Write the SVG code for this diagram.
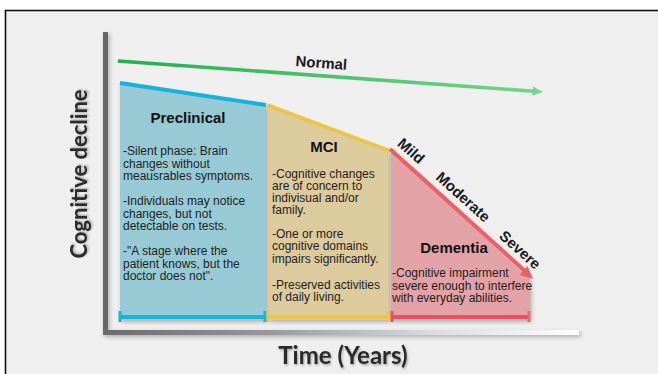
<svg xmlns="http://www.w3.org/2000/svg" width="658" height="374" viewBox="0 0 658 374">
  <defs>
    <style>
      .body { font-family: "Liberation Sans", Arial, sans-serif; font-size: 12px; fill: #1e1e1e; }
      .title { font-family: "Liberation Sans", Arial, sans-serif; font-size: 15px; font-weight: bold; fill: #111; }
      .stage { font-family: "Liberation Sans", Arial, sans-serif; font-size: 15px; font-weight: bold; fill: #1a1a1a; text-anchor: middle; }
      .axis-label { font-family: Lato, "Open Sans", sans-serif; font-weight: bold; fill: #2a2a2a; text-anchor: middle; }
      .bar { stroke-width: 4; fill: none; }
      .tick { stroke-width: 3; fill: none; }
    </style>
    <filter id="soft" x="-10%" y="-10%" width="130%" height="130%">
      <feDropShadow dx="1.5" dy="2" stdDeviation="2" flood-color="#000" flood-opacity="0.28"/>
    </filter>
    <filter id="textShadow" x="-10%" y="-20%" width="130%" height="150%">
      <feDropShadow dx="1" dy="1.5" stdDeviation="1.2" flood-color="#000" flood-opacity="0.3"/>
    </filter>
    <linearGradient id="timeAxis" x1="0" y1="0" x2="1" y2="0">
      <stop offset="0" stop-color="#6a6a6c"/>
      <stop offset="0.35" stop-color="#98989c"/>
      <stop offset="0.7" stop-color="#dcdce4"/>
      <stop offset="1" stop-color="#ffffff"/>
    </linearGradient>
    <linearGradient id="normalGrad" gradientUnits="userSpaceOnUse" x1="118" y1="61" x2="543" y2="92">
      <stop offset="0" stop-color="#1db24a"/>
      <stop offset="1" stop-color="#76d58a"/>
    </linearGradient>
  </defs>

  <!-- page and frame -->
  <rect x="0" y="0" width="658" height="374" fill="#ffffff"/>
  <rect x="5.5" y="10.5" width="700" height="400" fill="#efefef" stroke="#111" stroke-width="1.6"/>

  <!-- axes -->
  <g id="axes" filter="url(#soft)">
    <rect x="103" y="32" width="5" height="303" fill="#666668"/>
    <rect x="103" y="330" width="476" height="5" fill="url(#timeAxis)"/>
  </g>

  <!-- stage regions -->
  <g id="preclinical">
    <polygon points="120,83 266,105 266,320 120,320" fill="#97cad5" filter="url(#soft)"/>
    <line x1="120" y1="83" x2="266" y2="105" stroke="#12b5d9" stroke-width="4"/>
    <text class="title" x="188" y="123" text-anchor="middle">Preclinical</text>
    <text class="body">
      <tspan x="123" y="155">-Silent phase: Brain</tspan>
      <tspan x="123" y="167.5">changes without</tspan>
      <tspan x="123" y="180">meausrables symptoms.</tspan>
      <tspan x="123" y="205">-Individuals may notice</tspan>
      <tspan x="123" y="217.5">changes, but not</tspan>
      <tspan x="123" y="230">detectable on tests.</tspan>
      <tspan x="123" y="255">-"A stage where the</tspan>
      <tspan x="123" y="267.5">patient knows, but the</tspan>
      <tspan x="123" y="280">doctor does not".</tspan>
    </text>
  </g>

  <g id="mci">
    <polygon points="268,105 389,151 389,320 268,320" fill="#dccb9d" filter="url(#soft)"/>
    <line x1="267" y1="105" x2="390" y2="151" stroke="#ecc544" stroke-width="4"/>
    <text class="title" x="324" y="152" text-anchor="middle">MCI</text>
    <text class="body">
      <tspan x="272" y="178">-Cognitive changes</tspan>
      <tspan x="272" y="190">are of concern to</tspan>
      <tspan x="272" y="202">indivisual and/or</tspan>
      <tspan x="272" y="214">family.</tspan>
      <tspan x="272" y="238">-One or more</tspan>
      <tspan x="272" y="250">cognitive domains</tspan>
      <tspan x="272" y="262.5">impairs significantly.</tspan>
      <tspan x="272" y="289">-Preserved activities</tspan>
      <tspan x="272" y="301">of daily living.</tspan>
    </text>
  </g>

  <g id="dementia">
    <polygon points="391,151 530,279 530,320 391,320" fill="#e3a2a6" filter="url(#soft)"/>
    <text class="title" x="454" y="253" text-anchor="middle">Dementia</text>
    <text class="body">
      <tspan x="392" y="277">-Cognitive impairment</tspan>
      <tspan x="392" y="289.5">severe enough to interfere</tspan>
      <tspan x="392" y="302">with everyday abilities.</tspan>
    </text>
  </g>

  <!-- trajectories and time bars -->
  <g id="connectors">
    <!-- normal ageing -->
    <line x1="118" y1="61" x2="534" y2="91.3" stroke="url(#normalGrad)" stroke-width="3.6"/>
    <polygon points="543,92 533,86.5 532.3,95.6" fill="#76d58a"/>
    <!-- dementia decline -->
    <line x1="390" y1="149" x2="526" y2="272" stroke="#ec5f67" stroke-width="4"/>
    <polygon points="533,279 519.5,275 527.5,266" fill="#ec5f67"/>
    <!-- stage spans -->
    <line class="bar" x1="120" y1="317" x2="266" y2="317" stroke="#12b8dc"/>
    <line class="tick" x1="120" y1="311" x2="120" y2="322" stroke="#12b8dc"/>
    <line class="tick" x1="265" y1="311" x2="265" y2="322" stroke="#12b8dc"/>
    <line class="bar" x1="267" y1="317" x2="389" y2="317" stroke="#ecc544"/>
    <line class="tick" x1="268" y1="311" x2="268" y2="322" stroke="#ecc544"/>
    <line class="tick" x1="388" y1="311" x2="388" y2="322" stroke="#ecc544"/>
    <line class="bar" x1="391" y1="317" x2="530" y2="317" stroke="#e9525c"/>
    <line class="tick" x1="392" y1="311" x2="392" y2="322" stroke="#e9525c"/>
    <line class="tick" x1="529" y1="311" x2="529" y2="322" stroke="#ec6a72"/>
  </g>

  <!-- trajectory labels -->
  <text class="stage" transform="translate(321,68) rotate(4.2)">Normal</text>
  <text class="stage" transform="translate(411,151) rotate(42)" dy="5">Mild</text>
  <text class="stage" transform="translate(463,197) rotate(42)" dy="5">Moderate</text>
  <text class="stage" transform="translate(520,250) rotate(42)" dy="5">Severe</text>

  <!-- axis titles -->
  <text class="axis-label" font-size="22" transform="translate(87,174) rotate(-90)" filter="url(#textShadow)">Cognitive decline</text>
  <text class="axis-label" font-size="24" x="343" y="364" filter="url(#textShadow)">Time (Years)</text>
</svg>
